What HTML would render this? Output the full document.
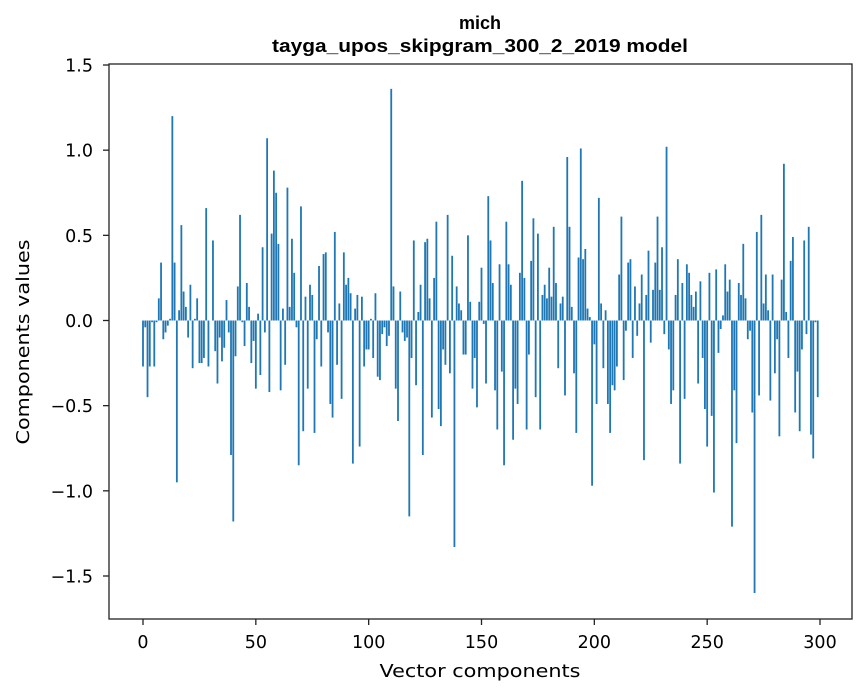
<!DOCTYPE html>
<html><head><meta charset="utf-8"><style>
html,body{margin:0;padding:0;background:#fff;}
svg{display:block;font-family:"DejaVu Sans","Liberation Sans",sans-serif;}
</style></head><body>
<svg id="chart" width="867" height="696" viewBox="0 0 867 696" xmlns="http://www.w3.org/2000/svg">
<rect width="867" height="696" fill="#fff"/>
<text x="480" y="29" text-anchor="middle" font-size="18" font-weight="bold" font-family="Liberation Sans, sans-serif">mich</text>
<text x="480" y="52" text-anchor="middle" font-size="18" font-weight="bold" font-family="Liberation Sans, sans-serif" textLength="416" lengthAdjust="spacingAndGlyphs">tayga_upos_skipgram_300_2_2019 model</text>
<g id="bars"></g>
<g id="yticks"></g>
<g id="xticks"></g>
<rect x="109" y="64" width="743" height="555" fill="none" stroke="#222" stroke-width="1.3"/>
<text transform="translate(29,342) rotate(-90)" text-anchor="middle" font-size="18" textLength="205" lengthAdjust="spacingAndGlyphs">Components values</text>
<text x="480" y="677" text-anchor="middle" font-size="18" textLength="201" lengthAdjust="spacingAndGlyphs">Vector components</text>
</svg>
<script>
const values = [
-0.27,-0.04,-0.45,-0.27,-0.01,-0.27,-0.01,0.13,0.34,-0.11,
-0.07,-0.03,0.01,1.20,0.34,-0.95,0.06,0.56,0.17,0.08,
-0.10,0.21,-0.28,0.01,0.13,-0.25,-0.25,-0.22,0.66,-0.27,
0.0,0.47,-0.18,-0.37,-0.10,-0.24,-0.16,0.12,-0.07,-0.79,
-1.18,-0.21,0.20,0.62,-0.01,-0.15,0.22,0.08,-0.25,-0.12,
-0.40,0.04,-0.32,0.43,-0.07,1.07,-0.42,0.51,0.88,0.75,
0.45,-0.41,0.07,-0.26,0.78,0.08,0.48,0.28,-0.04,-0.85,
0.67,-0.65,0.14,-0.40,0.21,0.15,-0.66,-0.11,0.32,-0.27,
0.39,0.40,-0.07,-0.49,-0.57,0.52,-0.26,0.10,-0.46,0.40,
0.21,0.25,0.16,-0.84,0.07,0.15,-0.74,0.14,-0.27,-0.17,
-0.17,0.01,-0.22,0.16,-0.33,-0.35,-0.08,-0.04,-0.15,-0.09,
1.36,0.20,-0.40,-0.59,0.17,-0.07,-0.12,-0.10,-1.15,-0.22,
0.47,-0.38,0.05,0.21,-0.79,0.46,0.48,0.13,-0.57,0.25,
0.58,-0.52,-0.62,-0.17,-0.26,0.62,-0.31,0.38,-1.33,0.20,
0.10,0.06,-0.20,-0.20,0.50,0.11,-0.40,-0.22,-0.51,0.11,
0.31,-0.02,-0.37,0.73,0.47,0.22,-0.41,-0.64,0.33,-0.30,
-0.85,0.58,0.33,0.21,-0.70,-0.40,-0.49,0.28,0.82,0.25,
-0.64,-0.20,0.35,0.60,-0.45,0.51,-0.64,0.15,0.21,0.13,
0.31,0.14,0.55,0.22,-0.28,0.10,0.14,-0.44,0.96,0.55,
0.08,-0.31,-0.66,0.37,1.01,0.36,0.42,0.07,0.02,-0.97,
-0.14,-0.49,0.72,0.10,-0.28,0.06,-0.49,-0.66,-0.38,-0.41,
-0.27,0.27,0.61,-0.35,-0.06,0.34,0.36,-0.22,0.20,-0.09,
0.10,0.27,-0.82,0.15,0.41,-0.13,0.18,0.34,0.61,0.18,
0.43,-0.08,1.02,-0.17,-0.49,-0.41,0.15,0.36,-0.84,0.22,
-0.46,0.33,0.28,0.15,0.08,0.17,-0.37,0.23,-0.22,-0.52,
-0.74,0.28,-0.56,-1.01,0.30,-0.19,-0.05,0.03,0.33,0.17,
0.24,-1.21,-0.41,-0.72,0.22,0.15,0.45,0.13,-0.11,-0.06,
-0.54,-1.60,0.52,-0.44,0.62,0.10,0.27,0.06,-0.47,0.27,
-0.31,-0.11,-0.68,0.24,0.92,0.05,-0.22,0.35,0.49,-0.54,
-0.30,-0.65,-0.17,0.47,-0.08,0.55,-0.67,-0.81,-0.01,-0.45
];
const yTickValues = [1.5,1.0,0.5,0.0,-0.5,-1.0,-1.5];
const yTickLabels = ["1.5","1.0","0.5","0.0","\u22120.5","\u22121.0","\u22121.5"];
const xTickValues = [0,50,100,150,200,250,300];
const xTickLabels = ["0","50","100","150","200","250","300"];

const NS = "http://www.w3.org/2000/svg";
function xScale(v){ return 143 + v * (820 - 143) / 300; }
function yScale(v){ return 320.5 - v * 170.33; }

const barsG = document.getElementById('bars');
const bw = 0.8 * (820 - 143) / 300;
values.forEach(function(v, i){
  const r = document.createElementNS(NS, 'rect');
  const y0 = yScale(0), y1 = yScale(v);
  r.setAttribute('x', xScale(i) - bw/2);
  r.setAttribute('y', Math.min(y0, y1));
  r.setAttribute('width', bw);
  r.setAttribute('height', Math.abs(y1 - y0));
  r.setAttribute('fill', '#1f77b4');
  
  
  barsG.appendChild(r);
});

const yg = document.getElementById('yticks');
yTickValues.forEach(function(v, i){
  const y = yScale(v);
  const l = document.createElementNS(NS, 'line');
  l.setAttribute('x1', 103); l.setAttribute('x2', 109);
  l.setAttribute('y1', y); l.setAttribute('y2', y);
  l.setAttribute('stroke', '#222'); l.setAttribute('stroke-width', '1.3');
  
  
  yg.appendChild(l);
  const t = document.createElementNS(NS, 'text');
  t.setAttribute('x', 93); t.setAttribute('y', y + 6.5);
  t.setAttribute('text-anchor', 'end'); t.setAttribute('font-size', '17.5');
  t.textContent = yTickLabels[i];
  
  
  yg.appendChild(t);
});

const xg = document.getElementById('xticks');
xTickValues.forEach(function(v, i){
  const x = xScale(v);
  const l = document.createElementNS(NS, 'line');
  l.setAttribute('x1', x); l.setAttribute('x2', x);
  l.setAttribute('y1', 619); l.setAttribute('y2', 625);
  l.setAttribute('stroke', '#222'); l.setAttribute('stroke-width', '1.3');
  
  
  xg.appendChild(l);
  const t = document.createElementNS(NS, 'text');
  t.setAttribute('x', x); t.setAttribute('y', 648);
  t.setAttribute('text-anchor', 'middle'); t.setAttribute('font-size', '17.5');
  t.textContent = xTickLabels[i];
  
  
  xg.appendChild(t);
});
</script>
</body></html>
